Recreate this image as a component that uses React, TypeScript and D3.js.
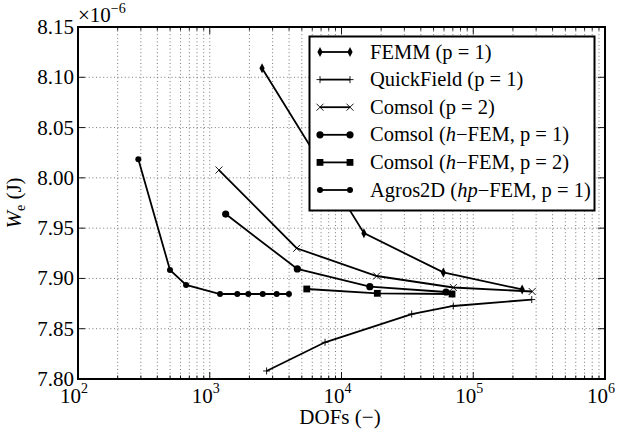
import React from "react";
import * as d3 from "d3";

const femmDofs = [2495, 14800, 59300, 235000];
const femmW = [8.109, 7.945, 7.906, 7.889];
const quickDofs = [2700, 7500, 34100, 70600, 278000];
const quickW = [7.808, 7.8365, 7.8646, 7.8726, 7.879];
const comsol2Dofs = [1175, 4570, 18500, 70600, 280000];
const comsol2W = [8.0078, 7.93, 7.9024, 7.891, 7.887];
const comsolH1Dofs = [1321, 4620, 16400, 62100];
const comsolH1W = [7.964, 7.9094, 7.8918, 7.8865];
const comsolH2Dofs = [5450, 18700, 69000];
const comsolH2W = [7.8895, 7.8852, 7.8845];
const agrosDofs = [287, 499, 661, 1197, 1618, 1963, 2524, 3222, 3990];
const agrosW = [8.0185, 7.9084, 7.8935, 7.8845, 7.8845, 7.8845, 7.8845, 7.8845, 7.8845];

const xTickExps = [2, 3, 4, 5, 6];
const yTicks = [7.8, 7.85, 7.9, 7.95, 8.0, 8.05, 8.1, 8.15];

const legendLabels = [
  "FEMM (p = 1)",
  "QuickField (p = 1)",
  "Comsol (p = 2)",
  "Comsol (h-FEM, p = 1)",
  "Comsol (h-FEM, p = 2)",
  "Agros2D (hp-FEM, p = 1)",
];

type MarkerKind = "diamond" | "plus" | "cross" | "circle" | "square" | "smallcircle";

const series: { dofs: number[]; w: number[]; marker: MarkerKind }[] = [
  { dofs: femmDofs, w: femmW, marker: "diamond" },
  { dofs: quickDofs, w: quickW, marker: "plus" },
  { dofs: comsol2Dofs, w: comsol2W, marker: "cross" },
  { dofs: comsolH1Dofs, w: comsolH1W, marker: "circle" },
  { dofs: comsolH2Dofs, w: comsolH2W, marker: "square" },
  { dofs: agrosDofs, w: agrosW, marker: "smallcircle" },
];

function Marker({ kind, x, y }: { kind: MarkerKind; x: number; y: number }) {
  switch (kind) {
    case "diamond":
      return <path d={`M${x},${y - 5}L${x + 2.6},${y}L${x},${y + 5}L${x - 2.6},${y}Z`} fill="#000" />;
    case "plus":
      return (
        <path d={`M${x - 3.5},${y}H${x + 3.5}M${x},${y - 3.5}V${y + 3.5}`} stroke="#000" strokeWidth={0.9} />
      );
    case "cross":
      return (
        <path
          d={`M${x - 3.5},${y - 3.5}L${x + 3.5},${y + 3.5}M${x - 3.5},${y + 3.5}L${x + 3.5},${y - 3.5}`}
          stroke="#000"
          strokeWidth={0.9}
        />
      );
    case "circle":
      return <circle cx={x} cy={y} r={3.6} fill="#000" />;
    case "smallcircle":
      return <circle cx={x} cy={y} r={3.0} fill="#000" />;
    case "square":
      return <rect x={x - 3.4} y={y - 3.4} width={6.8} height={6.8} fill="#000" />;
  }
}

export default function App() {
  const W = 623;
  const H = 436;
  const left = 78;
  const right = 605;
  const top = 27;
  const bottom = 379;

  const x = d3.scaleLog().domain([1e2, 1e6]).range([left, right]);
  const y = d3.scaleLinear().domain([7.8, 8.15]).range([bottom, top]);

  const minorX: number[] = [];
  for (let e = 2; e < 6; e++) {
    for (let m = 2; m <= 9; m++) minorX.push(m * Math.pow(10, e));
  }
  const majorX = xTickExps.map((e) => Math.pow(10, e));

  const line = d3
    .line<[number, number]>()
    .x((d) => x(d[0]))
    .y((d) => y(d[1]));

  const lgX0 = 320;
  const lgX1 = 350;
  const lgY0 = 52;
  const lgDy = 27.6;

  const renderLabel = (s: string) => {
    const m = s.match(/^(.*\()(hp|h)-(FEM.*)$/);
    if (!m) return s;
    return (
      <>
        {m[1]}
        <tspan className="it">{m[2]}</tspan>
        {"\u2212" + m[3]}
      </>
    );
  };

  return (
    <svg
      width={W}
      height={H}
      className="chart"
      fontFamily="Liberation Serif, Tinos, serif"
      style={{ position: "absolute", left: 0, top: 0 }}
    >
      <style>{`
        .chart text, .chart tspan { font-family: "Liberation Serif", "Tinos", serif; }
        .chart .it { font-style: italic; }
      `}</style>
      <rect x={0} y={0} width={W} height={H} fill="#fff" />
      <g stroke="#555" strokeWidth={0.8} strokeDasharray="1,2.6">
        {[...minorX, ...majorX].map((v, i) => (
          <line key={"gx" + i} x1={x(v)} x2={x(v)} y1={top} y2={bottom} />
        ))}
        {yTicks.map((v, i) => (
          <line key={"gy" + i} x1={left} x2={right} y1={y(v)} y2={y(v)} />
        ))}
      </g>
      <g stroke="#000" strokeWidth={0.9}>
        {majorX.map((v, i) => (
          <g key={"tx" + i}>
            <line x1={x(v)} x2={x(v)} y1={bottom} y2={bottom - 7} />
            <line x1={x(v)} x2={x(v)} y1={top} y2={top + 7} />
          </g>
        ))}
        {minorX.map((v, i) => (
          <g key={"mx" + i}>
            <line x1={x(v)} x2={x(v)} y1={bottom} y2={bottom - 3.5} />
            <line x1={x(v)} x2={x(v)} y1={top} y2={top + 3.5} />
          </g>
        ))}
        {yTicks.map((v, i) => (
          <g key={"ty" + i}>
            <line x1={left} x2={left + 7} y1={y(v)} y2={y(v)} />
            <line x1={right} x2={right - 7} y1={y(v)} y2={y(v)} />
          </g>
        ))}
      </g>
      {series.map((s, i) => {
        const pts = s.dofs.map((d, j) => [d, s.w[j]] as [number, number]);
        return (
          <g key={"s" + i}>
            <path d={line(pts) || ""} fill="none" stroke="#000" strokeWidth={1.8} />
            {pts.map((p, j) => (
              <Marker key={j} kind={s.marker} x={x(p[0])} y={y(p[1])} />
            ))}
          </g>
        );
      })}
      <rect x={left} y={top} width={right - left} height={bottom - top} fill="none" stroke="#000" strokeWidth={2} />
      <g fill="#000" fontSize={21}>
        {xTickExps.map((e, i) => (
          <text key={"lx" + i} x={x(Math.pow(10, e)) - 4} y={403} textAnchor="middle">
            10
            <tspan fontSize={14} dy={-10}>
              {e}
            </tspan>
          </text>
        ))}
        {yTicks.map((v, i) => (
          <text key={"ly" + i} x={left - 4} y={y(v) + 7} textAnchor="end">
            {v.toFixed(2)}
          </text>
        ))}
        <text x={left} y={22}>
          ×10
          <tspan fontSize={14} dy={-9}>
            −6
          </tspan>
        </text>
        <text x={340} y={424} textAnchor="middle">
          DOFs (−)
        </text>
        <text transform={`translate(21, ${(top + bottom) / 2}) rotate(-90)`} textAnchor="middle">
          <tspan className="it">W</tspan>
          <tspan fontSize={14} dy={4}>
            e
          </tspan>
          <tspan dy={-4}> (J)</tspan>
        </text>
      </g>
      <rect x={309.5} y={36.5} width={285} height={174} fill="#fff" stroke="#000" strokeWidth={2} />
      {series.map((s, i) => {
        const ly = lgY0 + i * lgDy;
        return (
          <g key={"lg" + i}>
            <line x1={lgX0} x2={lgX1} y1={ly} y2={ly} stroke="#000" strokeWidth={1.8} />
            <Marker kind={s.marker} x={lgX0} y={ly} />
            <Marker kind={s.marker} x={lgX1} y={ly} />
            <text x={370} y={ly + 6.5} fill="#000" fontSize={20.5}>
              {renderLabel(legendLabels[i])}
            </text>
          </g>
        );
      })}
    </svg>
  );
}
